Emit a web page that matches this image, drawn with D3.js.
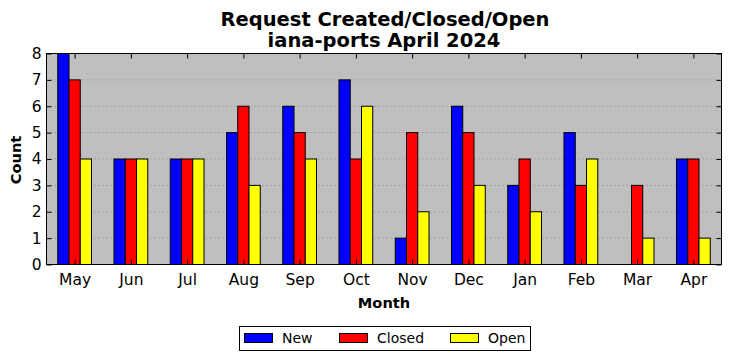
<!DOCTYPE html>
<html><head><meta charset="utf-8">
<script src="https://cdn.jsdelivr.net/npm/d3@7"></script>
<style>body{margin:0;background:#fff;}svg{display:block;font-family:"DejaVu Sans",sans-serif;}</style>
</head><body><svg id="c" width="732" height="361"></svg>
<script>
const months = ["May","Jun","Jul","Aug","Sep","Oct","Nov","Dec","Jan","Feb","Mar","Apr"];
const newVals = [8,4,4,5,6,7,1,6,3,5,0,4];
const closedVals = [7,4,4,6,5,4,5,5,4,3,3,4];
const openVals = [4,4,4,3,4,6,2,3,2,4,1,1];
const seriesNames = ["New","Closed","Open"];
const seriesColors = ["#0000ff","#ff0000","#ffff00"];
const yTicks = [0,1,2,3,4,5,6,7,8];

const svg = d3.select("#c");
const L=46.5, R=721.5, T=53.5, B=264.5;
const x = d3.scaleLinear().domain([-0.5, months.length-0.5]).range([L,R]);
const y = d3.scaleLinear().domain([0,8]).range([B,T]);

svg.append("rect").attr("x",L).attr("y",T).attr("width",R-L).attr("height",B-T).attr("fill","#bfbfbf");

// grid
svg.append("g").selectAll("line").data(yTicks.slice(1,-1)).join("line")
  .attr("x1",L).attr("x2",R).attr("y1",d=>y(d)).attr("y2",d=>y(d))
  .attr("stroke","#8a8a8a").attr("stroke-width",1).attr("stroke-dasharray","1,3");

const all = [newVals, closedVals, openVals];
const bw = 0.2;
all.forEach((vals,si)=>{
  svg.append("g").selectAll("rect").data(vals).join("rect")
    .attr("x",(d,i)=>x(i-0.3+si*bw))
    .attr("width",x(bw)-x(0))
    .attr("y",d=>y(d))
    .attr("height",d=>y(0)-y(d))
    .attr("fill",seriesColors[si]).attr("stroke","#000").attr("stroke-width",1);
});

// frame
svg.append("rect").attr("x",L).attr("y",T).attr("width",R-L).attr("height",B-T).attr("fill","none").attr("stroke","#000").attr("stroke-width",1);

// axes with inward ticks
const yAxisL = d3.axisLeft(y).tickValues(yTicks).tickSize(-5).tickPadding(5).tickFormat(d3.format("d"));
const gy = svg.append("g").attr("transform",`translate(${L},0)`).call(yAxisL);
gy.select(".domain").remove();
gy.selectAll("text").attr("font-size",15.5).attr("font-family","DejaVu Sans").attr("fill","#000");
const gyr = svg.append("g").attr("transform",`translate(${R},0)`).call(d3.axisRight(y).tickValues(yTicks).tickSize(-5).tickFormat(""));
gyr.select(".domain").remove();

const xAxisB = d3.axisBottom(x).tickValues(d3.range(months.length)).tickSize(-5).tickPadding(9).tickFormat(i=>months[i]);
const gx = svg.append("g").attr("transform",`translate(0,${B})`).call(xAxisB);
gx.select(".domain").remove();
gx.selectAll("text").attr("font-size",15.5).attr("font-family","DejaVu Sans").attr("fill","#000");
const gxt = svg.append("g").attr("transform",`translate(0,${T})`).call(d3.axisTop(x).tickValues(d3.range(months.length)).tickSize(-5).tickFormat(""));
gxt.select(".domain").remove();
svg.selectAll(".tick line").attr("stroke","#000");

// titles
svg.append("text").attr("x",385).attr("y",25.5).attr("text-anchor","middle").attr("font-size",19.5).attr("font-weight","bold").text("Request Created/Closed/Open");
svg.append("text").attr("x",384).attr("y",46.5).attr("text-anchor","middle").attr("font-size",19.5).attr("font-weight","bold").text("iana-ports April 2024");
svg.append("text").attr("x",384).attr("y",308).attr("text-anchor","middle").attr("font-size",14.6).attr("font-weight","bold").text("Month");
svg.append("text").attr("transform","translate(20.5,160) rotate(-90)").attr("text-anchor","middle").attr("font-size",14.6).attr("font-weight","bold").text("Count");

// legend
const lg = svg.append("g");
lg.append("rect").attr("x",239.5).attr("y",326.5).attr("width",291).attr("height",24).attr("fill","#fff").attr("stroke","#000");
const lx = [244,339,450];
seriesNames.forEach((n,i)=>{
  lg.append("rect").attr("x",lx[i]+0.5).attr("y",333.5).attr("width",28).attr("height",9).attr("fill",seriesColors[i]).attr("stroke","#000");
  lg.append("text").attr("x",lx[i]+38).attr("y",343).attr("font-size",14).text(n);
});
</script></body></html>
